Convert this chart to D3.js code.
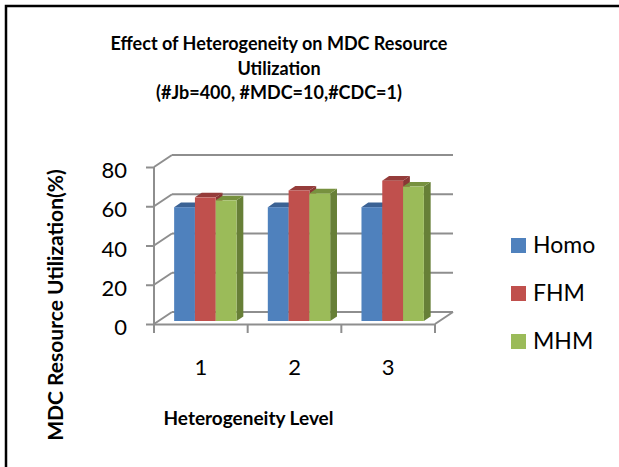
<!DOCTYPE html>
<html>
<head>
<meta charset="utf-8">
<script src="https://cdn.jsdelivr.net/npm/d3@7"></script>
<style>
  body { margin: 0; background: #fff; }
  svg { display: block; font-family: Lato, 'Open Sans', sans-serif; }
</style>
</head>
<body>
<div id="chart"></div>
<script>
// data
const categories = ['1', '2', '3'];
const seriesNames = ['Homo', 'FHM', 'MHM'];
const homo = [58, 58, 58];
const fhm = [63, 66.5, 71.5];
const mhm = [61.5, 65, 68.5];
const yTicks = [0, 20, 40, 60, 80];

const frontColors = ['#4F81BD', '#C0504D', '#9BBB59'];
const topColors = ['#3B6294', '#953C3A', '#77913F'];
const sideColors = ['#375B86', '#8A3735', '#677F37'];

const width = 619, height = 467;
const svg = d3.select('#chart').append('svg')
  .attr('width', width)
  .attr('height', height);

// frame (left and top edges only)
svg.append('path')
  .attr('d', 'M6,' + height + 'V6H' + width)
  .attr('fill', 'none')
  .attr('stroke', '#000')
  .attr('stroke-width', 2.5);

// title
const title = ['Effect of Heterogeneity on MDC Resource', 'Utilization', '(#Jb=400, #MDC=10,#CDC=1)'];
svg.append('g').selectAll('text')
  .data(title)
  .enter().append('text')
  .attr('x', 279)
  .attr('y', (d, i) => 50 + i * 24.5)
  .attr('text-anchor', 'middle')
  .attr('font-weight', 'bold')
  .attr('font-size', '18px')
  .text(d => d);

// scales (front plane)
const x0 = d3.scaleBand().domain(categories).range([154, 435]);
const y = d3.scaleLinear().domain([0, 80]).range([324, 167]);

// 3d offsets
const wall = { dx: 18, dy: -12 };      // back wall
const barPos = { dx: 4.5, dy: -3 };    // front face of bars
const barDepth = { dx: 6.8, dy: -4.6 };

const gridColor = '#8E8E8E';
const grid = svg.append('g')
  .attr('stroke', gridColor)
  .attr('stroke-width', 2)
  .attr('fill', 'none');

// back wall lines
grid.selectAll('.hline')
  .data(yTicks)
  .enter().append('line')
  .attr('x1', x0.range()[0] + wall.dx)
  .attr('x2', x0.range()[1] + wall.dx)
  .attr('y1', d => y(d) + wall.dy)
  .attr('y2', d => y(d) + wall.dy);

// side wall diagonals
grid.selectAll('.diag')
  .data(yTicks)
  .enter().append('line')
  .attr('x1', x0.range()[0])
  .attr('x2', x0.range()[0] + wall.dx)
  .attr('y1', d => y(d))
  .attr('y2', d => y(d) + wall.dy);

// floor right edge
grid.append('line')
  .attr('x1', x0.range()[1])
  .attr('x2', x0.range()[1] + wall.dx)
  .attr('y1', y(0))
  .attr('y2', y(0) + wall.dy);

// y axis
const yAxis = svg.append('g')
  .attr('transform', 'translate(' + x0.range()[0] + ',0)')
  .call(d3.axisLeft(y).tickValues(yTicks).tickSize(8).tickPadding(19).tickSizeOuter(0));
yAxis.select('.domain').remove();
yAxis.selectAll('line').attr('stroke', gridColor).attr('stroke-width', 2);
yAxis.selectAll('text')
  .attr('dy', 10.5)
  .attr('font-size', '22px')
  .attr('font-family', 'Lato, sans-serif')
  .attr('fill', '#000');
yAxis.append('line')
  .attr('y1', y(80))
  .attr('y2', y(0) + 9)
  .attr('stroke', gridColor)
  .attr('stroke-width', 2);

// x axis
const xAxis = svg.append('g')
  .attr('transform', 'translate(0,' + y(0) + ')')
  .call(d3.axisBottom(x0).tickSize(0).tickPadding(0));
xAxis.select('.domain')
  .attr('stroke', gridColor)
  .attr('stroke-width', 2);
xAxis.selectAll('text')
  .attr('y', 51)
  .attr('dy', 0)
  .attr('font-size', '22px')
  .attr('font-family', 'Lato, sans-serif')
  .attr('fill', '#000');
const bounds = categories.map(c => x0(c)).concat([x0.range()[1]]);
xAxis.selectAll('.ctick')
  .data(bounds)
  .enter().append('line')
  .attr('x1', d => d)
  .attr('x2', d => d)
  .attr('y1', 0)
  .attr('y2', 9)
  .attr('stroke', gridColor)
  .attr('stroke-width', 2);

// bars
const values = [homo, fhm, mhm];
const groupWidth = x0.bandwidth() * 0.666;
const x1 = d3.scaleBand().domain(seriesNames).range([0, groupWidth]);
const barData = [];
categories.forEach((c, ci) => {
  seriesNames.forEach((s, si) => {
    barData.push({ cat: c, series: s, si: si, value: values[si][ci] });
  });
});

const bars = svg.append('g').selectAll('g')
  .data(barData)
  .enter().append('g');

function bx(d) { return x0(d.cat) + (x0.bandwidth() - groupWidth) / 2 + x1(d.series) + barPos.dx; }
function by(v) { return y(v) + barPos.dy; }

bars.append('path')
  .attr('fill', d => sideColors[d.si])
  .attr('d', d => {
    const xr = bx(d) + x1.bandwidth();
    return 'M' + xr + ',' + by(0) +
      'L' + (xr + barDepth.dx) + ',' + (by(0) + barDepth.dy) +
      'L' + (xr + barDepth.dx) + ',' + (by(d.value) + barDepth.dy) +
      'L' + xr + ',' + by(d.value) + 'Z';
  });
bars.append('path')
  .attr('fill', d => topColors[d.si])
  .attr('d', d => {
    const xl = bx(d), xr = bx(d) + x1.bandwidth(), yt = by(d.value);
    return 'M' + xl + ',' + yt +
      'L' + (xl + barDepth.dx) + ',' + (yt + barDepth.dy) +
      'L' + (xr + barDepth.dx) + ',' + (yt + barDepth.dy) +
      'L' + xr + ',' + yt + 'Z';
  });
bars.append('rect')
  .attr('x', d => bx(d))
  .attr('y', d => by(d.value))
  .attr('width', x1.bandwidth())
  .attr('height', d => by(0) - by(d.value))
  .attr('fill', d => frontColors[d.si]);

// axis titles
svg.append('text')
  .attr('x', 248.5)
  .attr('y', 425)
  .attr('text-anchor', 'middle')
  .attr('font-weight', 'bold')
  .attr('font-size', '19px')
  .text('Heterogeneity Level');
svg.append('text')
  .attr('transform', 'translate(63,305) rotate(-90)')
  .attr('text-anchor', 'middle')
  .attr('font-weight', 'bold')
  .attr('font-size', '21px')
  .text('MDC Resource Utilization(%)');

// legend
const legend = svg.append('g').selectAll('g')
  .data(seriesNames)
  .enter().append('g')
  .attr('transform', (d, i) => 'translate(511,' + (238 + i * 48) + ')');
legend.append('rect')
  .attr('width', 15)
  .attr('height', 15)
  .attr('fill', (d, i) => frontColors[i]);
legend.append('text')
  .attr('x', 22)
  .attr('y', 15)
  .attr('font-size', '23px')
  .text(d => d);
</script>
</body>
</html>
